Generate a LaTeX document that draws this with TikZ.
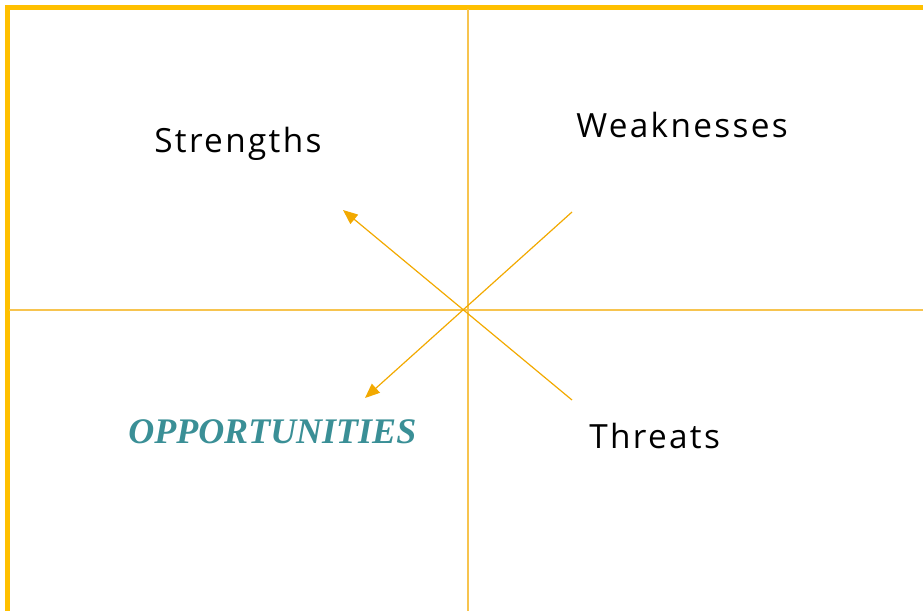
\documentclass[tikz,border=0pt]{standalone}
\usepackage{fontspec}
\setmainfont{Open Sans}[LetterSpace=7]
\newfontfamily\oppfont{Liberation Serif}
\usetikzlibrary{arrows.meta}
\definecolor{frameyellow}{HTML}{FFC000}
\definecolor{gridyellow}{HTML}{F7C44F}
\definecolor{arroworange}{HTML}{F2A900}
\definecolor{oppteal}{HTML}{3A8F96}
\tikzset{
  quadlabel/.style={anchor=base west, inner sep=0pt, font=\fontsize{25}{30}\selectfont},
  gridline/.style={draw=gridyellow, line width=1.1pt},
  swotarrow/.style={draw=arroworange, line width=0.9pt, -{Triangle[length=11pt,width=9pt]}}
}
\begin{document}
\begin{tikzpicture}[x=0.75pt,y=-0.75pt]
  \useasboundingbox (0,0) rectangle (923,610);
  % frame and grid
  \draw[draw=frameyellow, line width=3.8pt] (7.5,612) -- (7.5,7.5) -- (925,7.5);
  \draw[gridline] (468,9) -- (468,612);
  \draw[gridline] (9,310) -- (925,310);
  % labels
  \node[quadlabel] (s) at (154,152) {Strengths};
  \node[quadlabel] (w) at (576,137) {Weaknesses};
  \node[quadlabel] (t) at (589,448) {Threats};
  \node[anchor=base west, inner sep=0pt, text=oppteal, font=\oppfont\bfseries\itshape\fontsize{27}{32}\selectfont] (o) at (128,443) {OPPORTUNITIES};
  % arrows
  \coordinate (t0) at (572,400);
  \coordinate (s0) at (343,210);
  \coordinate (w0) at (572,212);
  \coordinate (o0) at (365,398);
  \draw[swotarrow] (t0) -- (s0);
  \draw[swotarrow] (w0) -- (o0);
\end{tikzpicture}
\end{document}
